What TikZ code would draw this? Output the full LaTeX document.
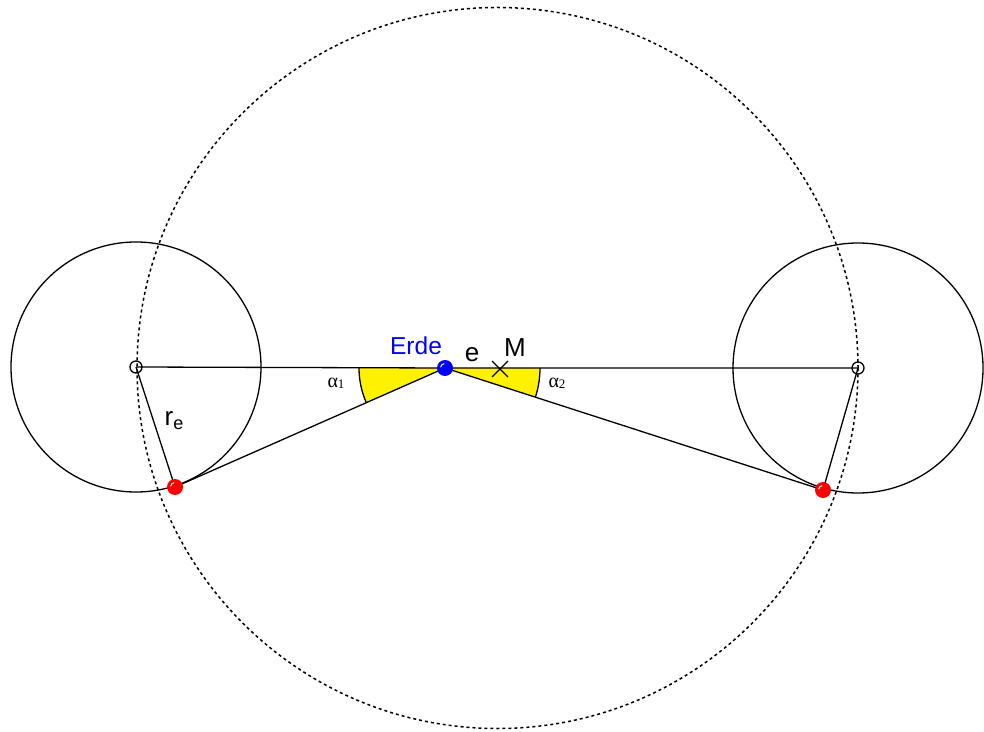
\documentclass[tikz,border=0pt]{standalone}
\usepackage{fontspec}
\usetikzlibrary{calc}
\setmainfont{Liberation Sans}
\newfontfamily\serifgr{Liberation Serif}
\begin{document}
\begin{tikzpicture}[x=1pt,y=1pt,
  ln/.style={line width=1.3pt,black},
  hole/.style={circle,draw,line width=1.3pt,minimum size=12pt,inner sep=0pt},
  ballr/.style={circle,minimum size=16pt,inner sep=0pt,fill=red},
  ballb/.style={circle,minimum size=16pt,inner sep=0pt,fill=blue},
  shine/.style={white,line width=1pt},
  lbl/.style={inner sep=0pt,font=\fontsize{26}{29}\selectfont},
  albl/.style={inner sep=0pt,font=\serifgr\fontsize{20}{22}\selectfont}]
\useasboundingbox (0,0) rectangle (984,731);
\fill[white] (0,0) rectangle (984,731);
% points
\coordinate (E) at (445,363);
\coordinate (L) at (136,364);
\coordinate (R) at (858,363);
\coordinate (PL) at (175,244);
\coordinate (PR) at (823,241);
\coordinate (C) at (497.5,363);
\coordinate (M) at (500,362);
% yellow wedges
\fill[yellow] (E) -- ++(180:86) arc[start angle=180,end angle=203.8,radius=86] -- cycle;
\draw[ln] ([shift={(180:86)}]E) arc[start angle=180,end angle=203.8,radius=86];
\fill[yellow] (E) -- ++(0:95) arc[start angle=0,end angle=-17.9,radius=95] -- cycle;
\draw[ln] ([shift={(0:95)}]E) arc[start angle=0,end angle=-17.9,radius=95];
% big dotted circle
\draw[line width=1.5pt,dash pattern=on 3pt off 3pt] (C) circle[radius=360.5];
% small circles
\draw[ln] (L) circle[radius=125];
\draw[ln] (R) circle[radius=125];
% lines
\draw[ln] (L) -- (E) -- (R);
\draw[ln] (E) -- (PL);
\draw[ln] (E) -- (PR);
\draw[ln] (L) -- (PL);
\draw[ln] (R) -- (PR);
% M cross
\draw[ln] ($(M)+(-8,-8)$) -- ($(M)+(8,8)$);
\draw[ln] ($(M)+(-8,8)$) -- ($(M)+(8,-8)$);
% dots
\node[hole] (Lc) at (L) {};
\node[hole] (Rc) at (R) {};
\node[ballr] (PLd) at (PL) {};
\node[ballr] (PRd) at (PR) {};
\node[ballb] (Ed) at (E) {};
\draw[shine] ([shift={(100:4.5)}]PLd.center) arc[start angle=100,end angle=170,radius=4.5];
\draw[shine] ([shift={(100:4.5)}]PRd.center) arc[start angle=100,end angle=170,radius=4.5];
\draw[shine] ([shift={(100:4.5)}]Ed.center) arc[start angle=100,end angle=170,radius=4.5];
% labels
\node[lbl,text=blue,font=\fontsize{24.5}{27}\selectfont] (erde) at (416,385) {Erde};
\node[lbl] (elbl) at (472,376) {e};
\node[lbl] (mlbl) at (515,383) {M};
\node[lbl] (re) at (174,310) {r\raisebox{-4pt}{\fontsize{18}{20}\selectfont e}};
\node[albl] (a1) at (336,348) {α\raisebox{-1pt}{\fontsize{13}{14}\selectfont 1}};
\node[albl] (a2) at (557,348) {α\raisebox{-1pt}{\fontsize{13}{14}\selectfont 2}};
\end{tikzpicture}
\end{document}
